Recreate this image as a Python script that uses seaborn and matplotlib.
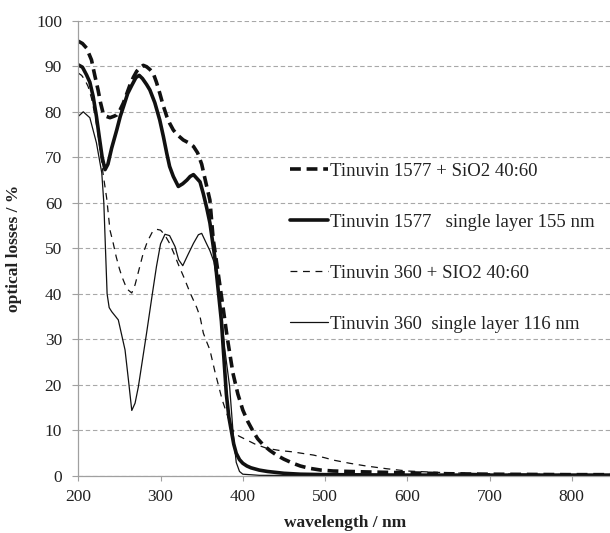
import numpy as np
import pandas as pd
import seaborn as sns
import matplotlib.pyplot as plt

# Tinuvin 1577 + SiO2 40:60 (thick dashed)
wl_a = [200, 205, 210, 216, 220, 224, 227, 230, 234, 238.5, 243, 246.7, 251, 254.7, 259, 263, 267, 271,
        275, 279, 283, 287, 291, 295, 299, 303, 307.5, 311, 315.5, 320, 327.7, 334, 340, 345, 350, 355,
        360, 364, 370, 376, 381, 388, 394, 400, 406, 412, 418, 425, 433, 441, 450, 461, 470, 481, 495,
        510, 550, 600, 650, 700, 800, 850]
val_a = [95.5, 95, 94, 91.4, 88, 84.8, 82, 79.8, 79, 78.7, 79, 79.3, 80.5, 81.9, 84, 86, 87.6, 88.9,
         89.7, 90.2, 89.9, 89.3, 88.5, 86.5, 84.1, 81.5, 79, 77.5, 76, 75, 73.8, 73.2, 72.4, 71, 68.5, 64.5,
         60.6, 52, 44.6, 37, 30.5, 22.6, 18, 14.5, 12, 10, 8.2, 6.8, 5.6, 4.6, 3.7, 2.8, 2.2, 1.7, 1.3,
         1.1, 0.9, 0.7, 0.5, 0.4, 0.3, 0.3]

# Tinuvin 1577 single layer 155 nm (thick solid)
wl_b = [200, 205, 210, 214, 218, 222, 226, 229, 232.5, 236, 240.5, 246.7, 251, 255, 260, 265, 270, 274,
        278, 283, 287, 293, 299, 303.5, 307.5, 311, 315.5, 321.6, 327, 332, 336, 340, 344, 348, 352, 356,
        360, 366, 370, 374, 377, 380, 383, 386, 389, 392, 396, 400, 405, 410, 420, 430, 450, 470, 500,
        600, 850]
val_b = [90.3, 89.8, 88.1, 86.5, 83.4, 79, 73.8, 70, 67.3, 68.5, 72, 76, 79, 81.2, 84, 85.8, 87.5, 88,
         87.3, 86, 84.8, 82, 78.2, 74.5, 70.9, 68, 65.8, 63.6, 64.2, 65, 65.8, 66.2, 65.4, 64.6, 62, 59,
         55.6, 48, 41, 34, 26, 18, 13, 10, 7, 5, 3.6, 2.8, 2.2, 1.8, 1.3, 1.0, 0.6, 0.4, 0.3,
         0.2, 0.2]

# Tinuvin 360 + SIO2 40:60 (thin dashed)
wl_c = [200, 204, 208, 212, 216, 220, 224, 227, 230, 234.5, 238.5, 242, 246, 250, 253, 257, 261, 265,
        269, 274, 279, 284, 290, 295, 300, 305, 311, 316, 322, 328, 336, 344, 348, 352, 356, 360, 366,
        375, 380, 388, 395, 405, 415, 429, 445, 461, 475, 486, 500, 510, 530, 550, 575, 600, 650, 700,
        800, 850]
val_c = [88.5, 88, 87, 85.5, 83, 79.5, 75, 71, 66.5, 61, 54, 51.5, 48.2, 45.5, 43.8, 42, 40.8, 40.2,
         42, 45.5, 49, 51.5, 53.6, 54.2, 54, 53, 51.1, 49, 46.3, 43.8, 40.2, 37, 35, 31.4, 29.5, 27.7, 23,
         16.7, 14, 10, 8.8, 7.9, 7, 6.1, 5.6, 5.3, 4.9, 4.6, 4.0, 3.5, 2.8, 2.2, 1.6, 1.1, 0.7, 0.5,
         0.3, 0.3]

# Tinuvin 360 single layer 116 nm (thin solid)
wl_d = [200, 206, 214, 222, 228.5, 231, 233, 235, 237.5, 240.6, 248.6, 256.8, 261, 265, 269, 273, 283,
        290, 295, 300, 305.4, 311, 317.6, 322, 327, 333, 340, 346, 350, 356, 360, 365, 372, 378, 384,
        388, 392, 396, 400, 420, 500, 850]
val_d = [79, 80, 78.7, 73.2, 66.6, 60, 50, 40, 37, 36.1, 34.3, 27.7, 21, 14.4, 16, 19.6, 31.4,
         40, 46, 51, 53.1, 52.8, 50.4, 47.5, 46.2, 48.5, 51.1, 53, 53.3, 51, 49.5, 47, 39, 28, 19.6,
         10, 3, 1, 0.4, 0.15, 0.1, 0.1]

labels = ['Tinuvin 1577 + SiO2 40:60',
          'Tinuvin 1577   single layer 155 nm',
          'Tinuvin 360 + SIO2 40:60',
          'Tinuvin 360  single layer 116 nm']

sns.set_style('white')
plt.rcParams['font.family'] = ['Liberation Serif', 'DejaVu Serif']

fig = plt.figure(figsize=(6.1, 5.33), dpi=100)
ax = fig.add_axes([0.1284, 0.1069, 0.8763, 0.8542])

ink = '#111111'
series = [
    (wl_a, val_a, 2.6, (0, (3.0, 1.6))),
    (wl_b, val_b, 2.6, '-'),
    (wl_c, val_c, 0.9, (0, (5.5, 4.5))),
    (wl_d, val_d, 0.9, '-'),
]
for (x, y, lw, ls), lab in zip(series, labels):
    df = pd.DataFrame({'wavelength': x, 'loss': y})
    sns.lineplot(data=df, x='wavelength', y='loss', ax=ax, color=ink,
                 linewidth=lw, linestyle=ls, label=lab)

ax.set_xlim(200, 850)
ax.set_ylim(0, 100)
ax.set_xticks(np.arange(200, 900, 100))
ax.set_yticks(np.arange(0, 110, 10))

# dashed horizontal grid
ax.yaxis.grid(True, color='#a8a8a8', linestyle=(0, (4, 2.5)), linewidth=0.8)
ax.xaxis.grid(False)
ax.set_axisbelow(True)

for s in ['top', 'right']:
    ax.spines[s].set_visible(False)
for s in ['left', 'bottom']:
    ax.spines[s].set_color('#a0a0a0')
    ax.spines[s].set_linewidth(0.9)

ax.tick_params(axis='y', direction='out', length=4.2, width=0.8, color='#a0a0a0',
               pad=7.5, labelsize=12.5, labelcolor='#222222', left=True)
ax.tick_params(axis='x', direction='out', length=3.6, width=0.8, color='#a0a0a0',
               pad=6, labelsize=12.5, labelcolor='#222222', bottom=True)

ax.set_xlabel('wavelength / nm', fontsize=12.5, fontweight='bold', color='#222222', labelpad=7)
ax.set_ylabel('optical losses / %', fontsize=12.5, fontweight='bold', color='#222222', labelpad=10)

leg = ax.legend(loc='upper left', bbox_to_anchor=(0.396, 0.688), frameon=False,
                fontsize=13.5, handlelength=2.05, handletextpad=0.1, labelspacing=1.8,
                borderpad=0, borderaxespad=0)
for t in leg.get_texts():
    t.set_color('#222222')

fig.savefig('out.png', dpi=100)
